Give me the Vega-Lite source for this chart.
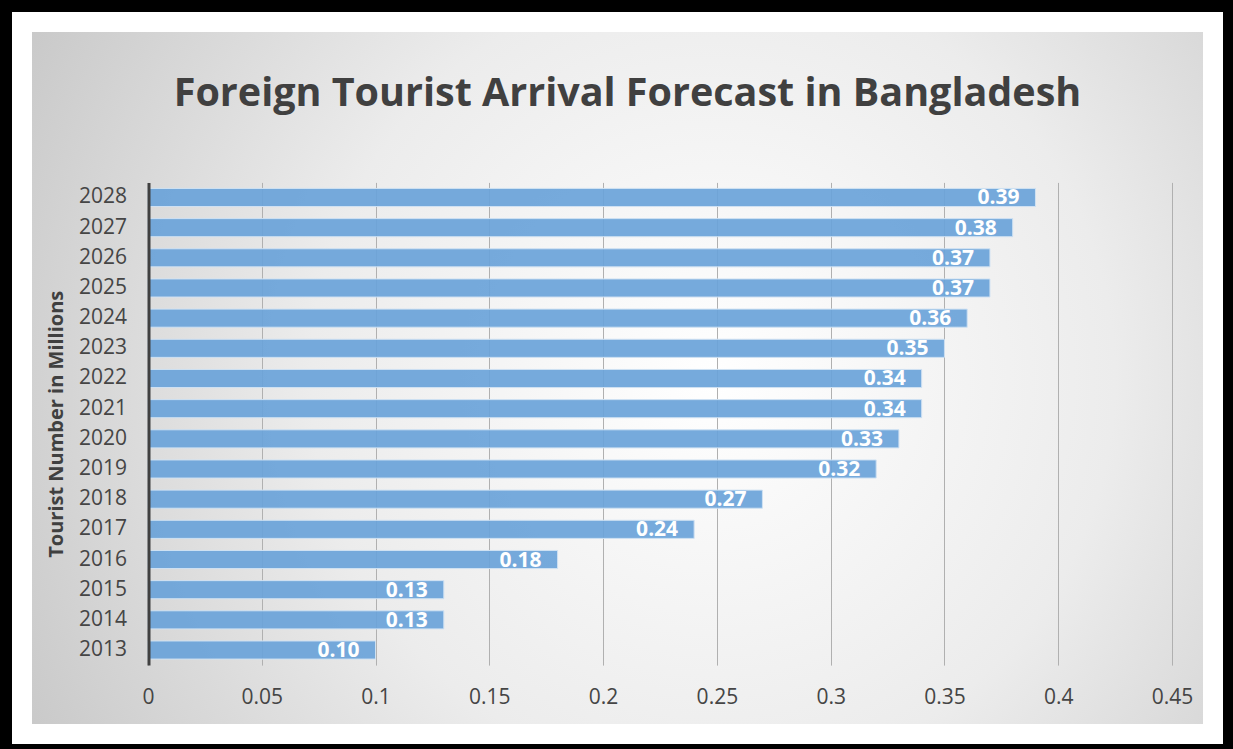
{
  "$schema": "https://vega.github.io/schema/vega-lite/v6.json",
  "width": 1191,
  "height": 712,
  "autosize": {"type": "none"},
  "padding": {"left": 22, "top": 22, "right": 20, "bottom": 15},
  "background": "#000000",
  "title": {
    "text": "Foreign Tourist Arrival Forecast in Bangladesh",
    "font": "Open Sans",
    "fontSize": 39.5,
    "fontWeight": "bold",
    "color": "#404040",
    "anchor": "middle",
    "offset": -92,
    "dx": 10
  },
  "data": {
    "values": [
      {"year": "2013", "tourists": 0.10},
      {"year": "2014", "tourists": 0.13},
      {"year": "2015", "tourists": 0.13},
      {"year": "2016", "tourists": 0.18},
      {"year": "2017", "tourists": 0.24},
      {"year": "2018", "tourists": 0.27},
      {"year": "2019", "tourists": 0.32},
      {"year": "2020", "tourists": 0.33},
      {"year": "2021", "tourists": 0.34},
      {"year": "2022", "tourists": 0.34},
      {"year": "2023", "tourists": 0.35},
      {"year": "2024", "tourists": 0.36},
      {"year": "2025", "tourists": 0.37},
      {"year": "2026", "tourists": 0.37},
      {"year": "2027", "tourists": 0.38},
      {"year": "2028", "tourists": 0.39}
    ]
  },
  "encoding": {
    "y": {
      "field": "year",
      "type": "ordinal",
      "sort": "descending",
      "scale": {"range": [160.4, 643.1], "paddingInner": 0.4, "paddingOuter": 0.2},
      "axis": {
        "orient": "left",
        "offset": -126.5,
        "zindex": 1,
        "domainColor": "#404040",
        "domainWidth": 3,
        "ticks": false,
        "tickSize": 0,
        "grid": false,
        "labelFont": "Open Sans",
        "labelFontSize": 21,
        "labelColor": "#454545",
        "labelPadding": 22,
        "title": "Tourist Number in Millions",
        "titleFont": "Open Sans",
        "titleFontSize": 20,
        "titleFontWeight": "bold",
        "titleColor": "#404040",
        "titlePadding": 12
      }
    },
    "x": {
      "field": "tourists",
      "type": "quantitative",
      "scale": {"domain": [0, 0.45], "range": [126, 1150], "nice": false, "zero": true},
      "axis": {
        "orient": "top",
        "offset": 0,
        "zindex": 0,
        "domain": false,
        "ticks": false,
        "tickSize": 0,
        "grid": true,
        "gridColor": "#b0b0b0",
        "gridWidth": 1,
        "values": [0, 0.05, 0.1, 0.15, 0.2, 0.25, 0.3, 0.35, 0.4, 0.45],
        "format": "~g",
        "labelFont": "Open Sans",
        "labelFontSize": 21,
        "labelColor": "#454545",
        "labelBaseline": "middle",
        "labelPadding": -675,
        "labelFlush": false,
        "labelOverlap": false,
        "title": null
      }
    }
  },
  "layer": [
    {
      "mark": {"type": "bar", "color": "#6aa3d9", "stroke": "#d0e2f3", "strokeWidth": 1, "fillOpacity": 0.92}
    },
    {
      "mark": {"type": "text", "align": "right", "baseline": "middle", "dx": -16, "dy": 1, "color": "#ffffff", "font": "Open Sans", "fontSize": 21, "fontWeight": "bold"},
      "encoding": {"text": {"field": "tourists", "type": "quantitative", "format": ".2f"}}
    }
  ],
  "config": {
    "view": {
      "fill": {
        "gradient": "radial",
        "x1": 0.58, "y1": 0.5, "r1": 0,
        "x2": 0.58, "y2": 0.5, "r2": 0.75,
        "stops": [
          {"offset": 0, "color": "#ffffff"},
          {"offset": 0.45, "color": "#ececec"},
          {"offset": 1, "color": "#bdbdbd"}
        ]
      },
      "stroke": "#ffffff",
      "strokeWidth": 20
    }
  }
}
